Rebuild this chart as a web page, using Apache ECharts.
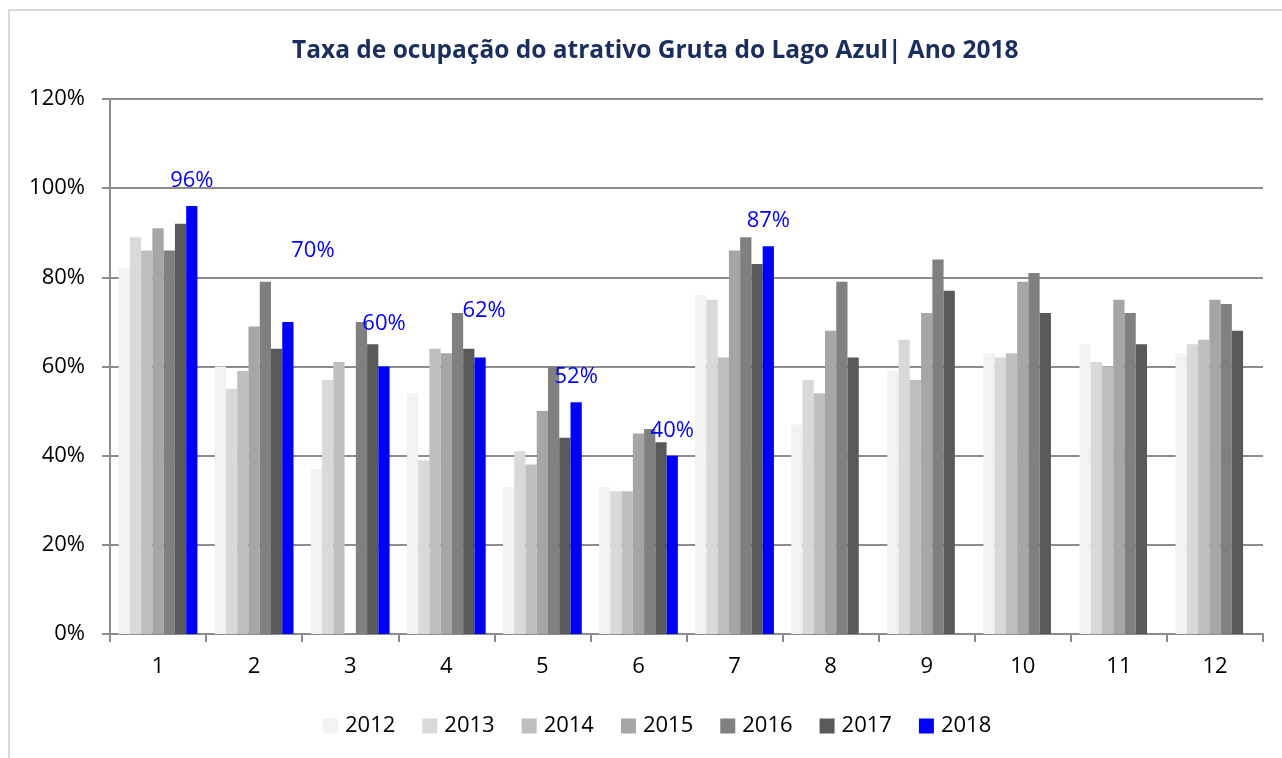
<!DOCTYPE html>
<html>
<head>
<meta charset="utf-8">
<script src="https://cdn.jsdelivr.net/npm/echarts@6/dist/echarts.min.js"></script>
<style>
  html, body { margin: 0; padding: 0; background: #fff; }
  #chart { width: 1282px; height: 758px; }
</style>
</head>
<body>
<div id="chart"></div>
<script>
  // meses 1..12
  const months = ["1", "2", "3", "4", "5", "6", "7", "8", "9", "10", "11", "12"];
  const years = ["2012", "2013", "2014", "2015", "2016", "2017", "2018"];

  // taxa de ocupação (%)
  const y2012 = [82, 60, 37, 54, 33, 33, 76, 47, 59, 63, 65, 63];
  const y2013 = [89, 55, 57, 39, 41, 32, 75, 57, 66, 62, 61, 65];
  const y2014 = [86, 59, 61, 64, 38, 32, 62, 54, 57, 63, 60, 66];
  const y2015 = [91, 69, null, 63, 50, 45, 86, 68, 72, 79, 75, 75];
  const y2016 = [86, 79, 70, 72, 60, 46, 89, 79, 84, 81, 72, 74];
  const y2017 = [92, 64, 65, 64, 44, 43, 83, 62, 77, 72, 65, 68];
  const y2018 = [96, 70, 60, 62, 52, 40, 87, null, null, null, null, null];

  const yTicks = [0, 20, 40, 60, 80, 100, 120];

  const allYears = [y2012, y2013, y2014, y2015, y2016, y2017, y2018];
  const colors = ["#f2f2f2", "#d9d9d9", "#bfbfbf", "#a6a6a6", "#808080", "#595959", "#0000ff"];

  // rótulos movidos à mão no original
  const labelNudge = { 1: [25, -46], 2: [0, -18], 3: [4, -22] };

  let myChart = echarts.init(document.getElementById("chart"));

  let series = allYears.map((vals, i) => {
    let s = {
      name: years[i],
      type: "bar",
      barGap: "0%",
      barCategoryGap: "18%",
      itemStyle: { color: colors[i] },
      data: vals
    };
    if (i === 6) {
      s.data = vals.map((v, j) => {
        let item = { value: v };
        if (labelNudge[j]) item.label = { offset: labelNudge[j] };
        return item;
      });
      s.label = {
        show: true,
        position: "top",
        distance: 14,
        color: "#0000ff",
        fontFamily: "Open Sans",
        fontSize: 22,
        formatter: p => (p.value == null ? "" : p.value + "%")
      };
    }
    return s;
  });

  let gridColor = "#8c8c8c";

  let option = {
    animation: false,
    textStyle: { fontFamily: "Open Sans" },
    title: {
      text: "Taxa de ocupação do atrativo Gruta do Lago Azul| Ano 2018",
      left: 287,
      top: 34,
      textStyle: {
        fontFamily: "Open Sans",
        fontWeight: "bold",
        fontSize: 24.5,
        color: "#1a2f5e"
      }
    },
    graphic: [
      {
        type: "rect",
        shape: { x: 9, y: 10, width: 1300, height: 800 },
        style: { fill: null, stroke: "#d9d9d9", lineWidth: 2 },
        silent: true
      }
    ],
    legend: {
      top: 710,
      left: 318,
      itemWidth: 15,
      itemHeight: 15,
      itemGap: 27,
      icon: "rect",
      textStyle: {
        fontFamily: "Open Sans",
        fontSize: 22,
        color: "#000",
        padding: [0, 0, 0, 2]
      },
      data: years
    },
    grid: { left: 110, right: 19, top: 99, bottom: 124 },
    xAxis: {
      type: "category",
      data: months,
      axisLine: { lineStyle: { color: gridColor, width: 2 } },
      axisTick: { show: true, length: 8, lineStyle: { color: gridColor, width: 2 } },
      axisLabel: { color: "#000", fontSize: 22, margin: 22, fontFamily: "Open Sans" }
    },
    yAxis: {
      type: "value",
      min: yTicks[0],
      max: yTicks[yTicks.length - 1],
      interval: 20,
      axisLine: { show: true, lineStyle: { color: gridColor, width: 2 } },
      axisTick: { show: true, length: 8, lineStyle: { color: gridColor, width: 2 } },
      splitLine: { lineStyle: { color: gridColor, width: 2 } },
      axisLabel: {
        color: "#000",
        fontSize: 22,
        margin: 25,
        fontFamily: "Open Sans",
        formatter: "{value}%"
      }
    },
    series: series
  };

  myChart.setOption(option);
</script>
</body>
</html>
